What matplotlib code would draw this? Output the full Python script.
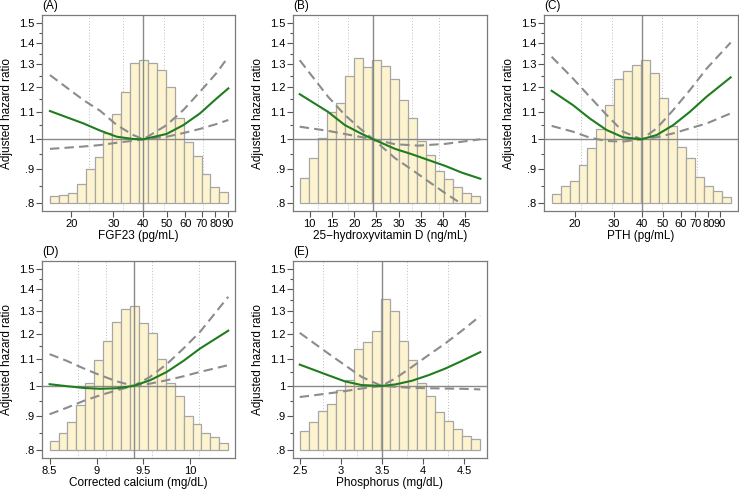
import numpy as np
import matplotlib
matplotlib.use("Agg")
import matplotlib.pyplot as plt
from matplotlib.ticker import FixedLocator, NullFormatter


# ----------------------------
# Data
# ----------------------------

# (A) FGF23, log x axis
fgf_bins = (16.3, 90.6)
fgf_hist = [0.820, 0.823, 0.828, 0.855, 0.900, 0.939, 1.021, 1.091, 1.178, 1.307,
            1.322, 1.304, 1.274, 1.202, 1.076, 0.992, 0.943, 0.885, 0.846, 0.831]
fgf_x = [16.3, 22.5, 26.4, 31.0, 36.3, 40.0, 50.1, 58.8, 69.0, 81.0, 90.6]
fgf_hr = [1.104, 1.057, 1.031, 1.009, 1.001, 1.000, 1.019, 1.051, 1.095, 1.154, 1.195]
fgf_hi = [1.252, 1.147, 1.105, 1.051, 1.015, 1.000, 1.051, 1.108, 1.181, 1.262, 1.335]
fgf_lo = [0.967, 0.975, 0.980, 0.988, 0.995, 1.000, 1.009, 1.022, 1.037, 1.055, 1.070]
fgf_ref = 40
fgf_pct = [23.8, 33.0, 48.9, 71.0]
fgf_ticks = [20, 30, 40, 50, 60, 70, 80, 90]

# (B) 25-hydroxyvitamin D, linear x axis
vitd_bins = (7.74, 48.4)
vitd_hist = [0.873, 0.936, 1.003, 1.101, 1.134, 1.247, 1.331, 1.286, 1.322, 1.292,
             1.234, 1.147, 1.076, 0.994, 0.947, 0.895, 0.870, 0.846, 0.828, 0.820]
vitd_x = [7.74, 14.1, 17.9, 21.7, 24.3, 29.2, 33.0, 36.7, 40.5, 44.2, 48.4]
vitd_hr = [1.171, 1.101, 1.051, 1.019, 1.000, 0.967, 0.949, 0.930, 0.911, 0.890, 0.871]
vitd_hi_x = [7.74, 14.1, 17.9, 21.7, 24.3, 29.2, 33.0, 36.7, 40.5, 43.9]
vitd_hi = [1.319, 1.161, 1.089, 1.033, 1.000, 0.936, 0.899, 0.863, 0.828, 0.800]
vitd_lo_x = [7.74, 14.1, 24.3, 29.2, 34.4, 40.5, 48.4]
vitd_lo = [1.045, 1.030, 1.000, 0.983, 0.978, 0.984, 1.000]
vitd_ref = 24.3
vitd_pct = [11.8, 18.5, 33.1, 39.0]
vitd_ticks = [10, 15, 20, 25, 30, 35, 40, 45]

# (C) PTH, log x axis
pth_bins = (15.7, 101.0)
pth_hist = [0.825, 0.850, 0.865, 0.914, 0.969, 1.036, 1.127, 1.234, 1.271, 1.297,
            1.319, 1.259, 1.154, 1.048, 0.972, 0.938, 0.876, 0.850, 0.833, 0.818]
pth_x = [15.7, 19.6, 23.3, 27.8, 33.0, 40.0, 46.8, 55.6, 66.1, 78.7, 101.0]
pth_hr = [1.185, 1.127, 1.076, 1.033, 1.007, 1.000, 1.015, 1.051, 1.101, 1.161, 1.242]
pth_hi = [1.335, 1.237, 1.161, 1.089, 1.027, 1.000, 1.039, 1.108, 1.188, 1.281, 1.403]
pth_lo = [1.048, 1.027, 1.006, 0.994, 0.992, 1.000, 1.007, 1.021, 1.039, 1.057, 1.095]
pth_ref = 40
pth_pct = [21.3, 29.4, 49.3, 71.4]
pth_ticks = [20, 30, 40, 50, 60, 70, 80, 90]

# (D) Corrected calcium, linear x axis
ca_bins = (8.5, 10.404)
ca_hist = [0.825, 0.849, 0.882, 0.935, 1.011, 1.096, 1.170, 1.250, 1.307, 1.322,
           1.246, 1.203, 1.100, 1.011, 0.964, 0.902, 0.877, 0.849, 0.837, 0.820]
ca_x = [8.5, 8.685, 8.862, 9.039, 9.217, 9.394, 9.571, 9.749, 9.926, 10.103, 10.404]
ca_hr = [1.006, 0.999, 0.993, 0.990, 0.992, 1.000, 1.020, 1.050, 1.091, 1.139, 1.212]
ca_hi = [1.117, 1.091, 1.063, 1.038, 1.016, 1.000, 1.032, 1.079, 1.139, 1.207, 1.364]
ca_lo = [0.906, 0.927, 0.949, 0.968, 0.985, 1.000, 1.008, 1.020, 1.034, 1.050, 1.075]
ca_ref = 9.4
ca_pct = [8.8, 9.1, 9.59, 10.09]
ca_ticks = [8.5, 9, 9.5, 10]

# (E) Phosphorus, linear x axis
phos_bins = (2.5, 4.695)
phos_hist = [0.855, 0.882, 0.916, 0.938, 0.985, 1.022, 1.139, 1.165, 1.212, 1.352,
             1.300, 1.170, 1.094, 1.011, 0.966, 0.913, 0.885, 0.861, 0.841, 0.830]
phos_x = [2.5, 2.845, 3.049, 3.252, 3.496, 3.659, 3.862, 4.065, 4.268, 4.472, 4.695]
phos_hr = [1.077, 1.038, 1.016, 1.003, 1.000, 1.005, 1.018, 1.038, 1.062, 1.091, 1.125]
phos_hi = [1.203, 1.120, 1.075, 1.032, 1.000, 1.026, 1.068, 1.113, 1.159, 1.212, 1.276]
phos_lo = [0.962, 0.974, 0.982, 0.991, 1.000, 0.997, 0.993, 0.992, 0.991, 0.990, 0.988]
phos_ref = 3.5
phos_pct = [2.78, 3.2, 3.8, 4.3]
phos_ticks = [2.5, 3, 3.5, 4, 4.5]

y_ticks = [0.8, 0.9, 1.0, 1.1, 1.2, 1.3, 1.4, 1.5]
y_labels = [".8", ".9", "1", "1.1", "1.2", "1.3", "1.4", "1.5"]
y_minor = [0.85, 0.95, 1.05, 1.15, 1.25, 1.35, 1.45]


# ----------------------------
# Style
# ----------------------------

plt.rcParams["font.family"] = ["Liberation Sans", "DejaVu Sans"]

W, H = 739, 490
FACE = "#fdf4cf"
EDGE = "#a6a6a6"
GREEN = "#1f7d1f"
DASH = "#8c8c8c"
FRAME = "#7a7a7a"


def add_axes(fig, left, right, top, bottom):
    return fig.add_axes([left / W, 1 - bottom / H,
                         (right - left) / W, (bottom - top) / H])


def draw_panel(ax, tag, xlabel, logx, bins, hist, xlim, ticks, ref, pct,
               curve_x, hr, hi_x, hi, lo_x, lo):

    if logx:
        ax.set_xscale("log")
        edges = np.geomspace(bins[0], bins[1], len(hist) + 1)
    else:
        edges = np.linspace(bins[0], bins[1], len(hist) + 1)

    ax.set_yscale("log")

    # percentile guides behind the histogram
    for p in pct:
        ax.axvline(p, color="#bdbdbd", lw=0.7, ls=(0, (1, 2)), zorder=0)

    heights = np.array(hist) - 0.8
    ax.bar(edges[:-1], heights, width=np.diff(edges), bottom=0.8,
           align="edge", color=FACE, edgecolor=EDGE, lw=0.9, zorder=1)

    ax.axhline(1.0, color="#8a8a8a", lw=1.0, zorder=2)
    ax.axvline(ref, color="#8a8a8a", lw=1.0, zorder=2)

    ax.plot(hi_x, hi, color=DASH, lw=1.5, ls=(0, (4.5, 2.5)), zorder=3)
    ax.plot(lo_x, lo, color=DASH, lw=1.5, ls=(0, (4.5, 2.5)), zorder=3)
    ax.plot(curve_x, hr, color=GREEN, lw=1.5, zorder=4)

    ax.set_xlim(*xlim)
    ax.set_ylim(0.778, 1.545)

    ax.xaxis.set_major_locator(FixedLocator(ticks))
    ax.xaxis.set_minor_locator(FixedLocator([]))
    ax.set_xticklabels([f"{t:g}" for t in ticks])
    ax.xaxis.set_minor_formatter(NullFormatter())

    ax.yaxis.set_major_locator(FixedLocator(y_ticks))
    ax.set_yticklabels(y_labels)
    ax.yaxis.set_minor_locator(FixedLocator(y_minor))
    ax.yaxis.set_minor_formatter(NullFormatter())

    ax.tick_params(which="major", length=4, width=0.8, color="#555555",
                   labelsize=8, pad=1.5)
    ax.tick_params(which="minor", length=2.5, width=0.8, color="#555555")

    for s in ax.spines.values():
        s.set_color(FRAME)
        s.set_linewidth(0.9)

    ax.set_xlabel(xlabel, fontsize=8.5, labelpad=1)
    ax.set_ylabel("Adjusted hazard ratio", fontsize=8.5)
    ax.yaxis.set_label_coords(-0.148, 0.5)

    ax.text(0.0, 1.015, tag, transform=ax.transAxes, fontsize=8.5,
            ha="left", va="bottom")


# ----------------------------
# Figure
# ----------------------------

fig = plt.figure(figsize=(W / 100, H / 100), dpi=100)

ax_a = add_axes(fig, 42, 235, 15, 211)
ax_b = add_axes(fig, 293, 487, 15, 211)
ax_c = add_axes(fig, 544, 738, 15, 211)
ax_d = add_axes(fig, 42, 235, 261, 458)
ax_e = add_axes(fig, 293, 487, 261, 458)

draw_panel(ax_a, "(A)", "FGF23 (pg/mL)", True, fgf_bins, fgf_hist,
           (15.1, 96.6), fgf_ticks, fgf_ref, fgf_pct,
           fgf_x, fgf_hr, fgf_x, fgf_hi, fgf_x, fgf_lo)

draw_panel(ax_b, "(B)", "25\u2212hydroxyvitamin D (ng/mL)", False, vitd_bins,
           vitd_hist, (6.23, 49.9), vitd_ticks, vitd_ref, vitd_pct,
           vitd_x, vitd_hr, vitd_hi_x, vitd_hi, vitd_lo_x, vitd_lo)

draw_panel(ax_c, "(C)", "PTH (pg/mL)", True, pth_bins, pth_hist,
           (14.5, 109), pth_ticks, pth_ref, pth_pct,
           pth_x, pth_hr, pth_x, pth_hi, pth_x, pth_lo)

draw_panel(ax_d, "(D)", "Corrected calcium (mg/dL)", False, ca_bins, ca_hist,
           (8.419, 10.476), ca_ticks, ca_ref, ca_pct,
           ca_x, ca_hr, ca_x, ca_hi, ca_x, ca_lo)

draw_panel(ax_e, "(E)", "Phosphorus (mg/dL)", False, phos_bins, phos_hist,
           (2.418, 4.777), phos_ticks, phos_ref, phos_pct,
           phos_x, phos_hr, phos_x, phos_hi, phos_x, phos_lo)

fig.savefig("out.png", dpi=100)
plt.close(fig)
